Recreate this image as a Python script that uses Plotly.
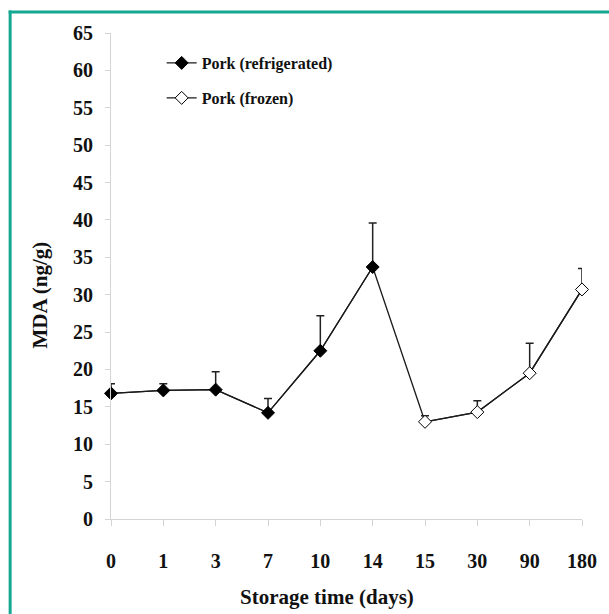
import plotly.graph_objects as go

# Data
days = ["0", "1", "3", "7", "10", "14", "15", "30", "90", "180"]
refrig_days = ["0", "1", "3", "7", "10", "14"]
refrig_mda = [16.8, 17.2, 17.3, 14.2, 22.5, 33.7]
refrig_err = [1.3, 0.9, 2.4, 1.9, 4.7, 5.9]
frozen_days = ["15", "30", "90", "180"]
frozen_mda = [13.0, 14.3, 19.5, 30.7]
frozen_err = [0.8, 1.5, 4.0, 2.8]

W, H = 609, 614
L, R, T, B = 111, 24, 33, 95
pw, ph = W - L - R, H - T - B


def px(x):
    return (x - L) / pw


def py(y):
    return (H - B - y) / ph


FONT = "Liberation Serif"
LINE = "#1a1a1a"
AXC = "#d4d4d4"

fig = go.Figure()

# connecting line through all points
fig.add_trace(go.Scatter(
    x=refrig_days + frozen_days, y=refrig_mda + frozen_mda,
    mode="lines", line=dict(color=LINE, width=1.3),
    showlegend=False, hoverinfo="skip", cliponaxis=False,
))

fig.add_trace(go.Scatter(
    x=refrig_days, y=refrig_mda, name="Pork (refrigerated)",
    mode="lines+markers", line=dict(color=LINE, width=1.3),
    marker=dict(symbol="diamond", size=10, color="#000000",
                line=dict(color="#000000", width=1)),
    error_y=dict(type="data", array=refrig_err,
                 arrayminus=[0] * len(refrig_err), symmetric=False,
                 color="#222222", thickness=1.5, width=4),
    cliponaxis=False, legend="legend",
))

fig.add_trace(go.Scatter(
    x=frozen_days, y=frozen_mda, name="Pork (frozen)",
    mode="lines+markers", line=dict(color=LINE, width=1.3),
    marker=dict(symbol="diamond", size=10, color="#ffffff",
                line=dict(color="#000000", width=1)),
    error_y=dict(type="data", array=frozen_err,
                 arrayminus=[0] * len(frozen_err), symmetric=False,
                 color="#222222", thickness=1.5, width=4),
    cliponaxis=False, legend="legend2",
))

tickfont = dict(family=FONT, size=20, color="#111111", weight="bold")
legfont = dict(family=FONT, size=16, color="#111111", weight="bold")
titlefont = dict(family=FONT, size=21, color="#111111", weight="bold")

fig.update_layout(
    width=W, height=H,
    margin=dict(l=L, r=R, t=T, b=B, pad=0),
    paper_bgcolor="white", plot_bgcolor="white",
    xaxis=dict(
        type="category", categoryorder="array", categoryarray=days,
        range=[0, 9], showgrid=False, zeroline=False,
        showline=True, linecolor=AXC, linewidth=1,
        ticks="outside", ticklen=6, tickcolor=AXC,
        tickfont=tickfont, ticklabelstandoff=18,
    ),
    yaxis=dict(
        range=[0, 65], dtick=5, showgrid=False, zeroline=False,
        showline=True, linecolor=AXC, linewidth=1,
        ticks="outside", ticklen=5, tickcolor=AXC,
        tickfont=tickfont, ticklabelstandoff=8,
    ),
    legend=dict(
        x=px(162), y=py(46), xanchor="left", yanchor="top",
        font=legfont, bgcolor="rgba(0,0,0,0)", itemwidth=30,
    ),
    legend2=dict(
        x=px(162), y=py(81), xanchor="left", yanchor="top",
        font=legfont, bgcolor="rgba(0,0,0,0)", itemwidth=30,
    ),
    annotations=[
        dict(text="Storage time (days)", xref="paper", yref="paper",
             x=px(328), y=py(597), showarrow=False,
             xanchor="center", yanchor="middle", font=titlefont),
        dict(text="MDA (ng/g)", xref="paper", yref="paper",
             x=px(40), y=py(295), showarrow=False, textangle=-90,
             xanchor="center", yanchor="middle", font=titlefont),
    ],
    shapes=[
        dict(type="line", xref="paper", yref="paper",
             x0=px(8), x1=px(W + 5), y0=py(12), y1=py(12),
             line=dict(color="#14a893", width=3)),
        dict(type="line", xref="paper", yref="paper",
             x0=px(9.5), x1=px(9.5), y0=py(10.5), y1=py(H + 5),
             line=dict(color="#14a893", width=3)),
    ],
)

fig.write_html(
    "out.html",
    config={"displayModeBar": False},
    post_script="document.body.style.margin='0';"
                "document.body.style.overflow='hidden';",
)
